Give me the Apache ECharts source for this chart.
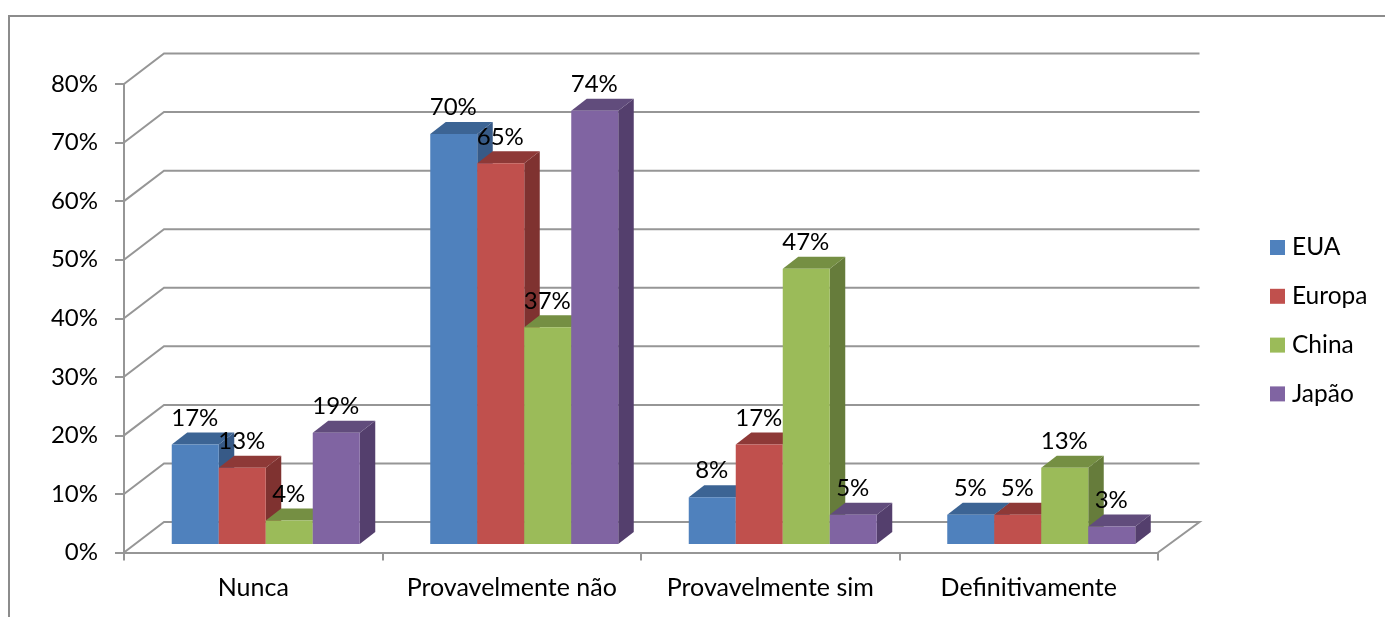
<!DOCTYPE html>
<html>
<head>
<meta charset="utf-8">
<script src="https://cdn.jsdelivr.net/npm/echarts@6/dist/echarts.min.js"></script>
<style>html,body{margin:0;padding:0;background:#fff}#c{width:1385px;height:617px}</style>
</head>
<body>
<div id="c"></div>
<script>
const categories = ['Nunca', 'Provavelmente não', 'Provavelmente sim', 'Definitivamente'];
const seriesNames = ['EUA', 'Europa', 'China', 'Japão'];
const EUA = [17, 70, 8, 5];
const Europa = [13, 65, 17, 5];
const China = [4, 37, 47, 13];
const Japao = [19, 74, 5, 3];
const gridTicks = [0, 10, 20, 30, 40, 50, 60, 70, 80];

const palette = [
  { front: '#4F81BD', top: '#3C6494', side: '#375A87' },
  { front: '#C0504D', top: '#8E3937', side: '#7F3230' },
  { front: '#9BBB59', top: '#758F43', side: '#667C3B' },
  { front: '#8064A2', top: '#614C7C', side: '#543F6D' }
];
const FONT = 'Lato';
const FS_NUM = 24, FS_CAT = 25, FS_LEG = 24.5;
const GRID = '#969696';
const BACK_DX = 40, BACK_DY = -30.5, BACK_EXTRA = 1.5;
const BAR_W = 47, DEPTH_DX = 15.5, DEPTH_DY = -12;
const BAR_SHIFT = 12.5, BAR_LIFT = 8.5;

function barRenderer(si) {
  return function (params, api) {
    const cat = api.value(0), val = api.value(1);
    const base = api.coord([cat, 0]);
    const top = api.coord([cat, val]);
    const x0 = base[0] + BAR_SHIFT + (si - 2) * BAR_W, x1 = x0 + BAR_W;
    const yb = base[1] - BAR_LIFT, yt = top[1] - BAR_LIFT;
    const c = palette[si];
    return {
      type: 'group',
      children: [
        { type: 'polygon', shape: { points: [[x1, yb], [x1 + DEPTH_DX, yb + DEPTH_DY], [x1 + DEPTH_DX, yt + DEPTH_DY], [x1, yt]] }, style: { fill: c.side } },
        { type: 'polygon', shape: { points: [[x0, yt], [x1, yt], [x1 + DEPTH_DX, yt + DEPTH_DY], [x0 + DEPTH_DX, yt + DEPTH_DY]] }, style: { fill: c.top } },
        { type: 'rect', shape: { x: x0, y: yt, width: BAR_W, height: yb - yt }, style: { fill: c.front } },
        { type: 'text', z2: 100, style: { text: val + '%', x: (x0 + x1) / 2 - 0.5, y: yt - 26.5, align: 'center', verticalAlign: 'middle', fill: '#000', font: FS_NUM + 'px ' + FONT } }
      ]
    };
  };
}

function gridRenderer(params, api) {
  const v = api.value(0);
  const cs = params.coordSys;
  const p = api.coord([0, v]);
  const xl = cs.x, xr = cs.x + cs.width, y = p[1];
  const pts = [[xl, y], [xl + BACK_DX, y + BACK_DY], [xr + BACK_DX + BACK_EXTRA, y + BACK_DY]];
  if (v === 0) pts.push([xr, y]);
  return { type: 'polyline', shape: { points: pts }, style: { stroke: GRID, lineWidth: 2, fill: null } };
}

const rows = [EUA, Europa, China, Japao];
const series = [{
  type: 'custom', name: 'grade', z: 1, silent: true, clip: false,
  coordinateSystem: 'cartesian2d',
  renderItem: gridRenderer,
  encode: { y: 0 },
  data: gridTicks.map(v => [v])
}];
rows.forEach((vals, si) => {
  series.push({
    type: 'custom', name: seriesNames[si], z: 3, clip: false,
    coordinateSystem: 'cartesian2d',
    itemStyle: { color: palette[si].front },
    renderItem: barRenderer(si),
    encode: { x: 0, y: 1 },
    data: vals.map((v, i) => [i, v])
  });
});

const chart = echarts.init(document.getElementById('c'), null, { renderer: 'canvas' });
chart.setOption({
  animation: false,
  backgroundColor: '#fff',
  textStyle: { fontFamily: FONT },
  grid: { left: 124, top: 84, width: 1034, height: 468.5, containLabel: false },
  graphic: [{
    type: 'polyline', z: 0, silent: true,
    shape: { points: [[9, 617], [9, 16], [1385, 16]] },
    style: { stroke: '#8C8C8C', lineWidth: 2, fill: null }
  }],
  legend: {
    data: seriesNames.map(n => ({ name: n, icon: 'rect' })),
    orient: 'vertical', left: 1270, top: 235,
    itemWidth: 15, itemHeight: 15, itemGap: 23.8,
    padding: 0,
    selectedMode: false,
    textStyle: { fontFamily: FONT, fontSize: FS_LEG, color: '#000', padding: [0, 0, 0, 2] }
  },
  xAxis: {
    type: 'category', data: categories,
    axisLine: { show: true, lineStyle: { color: GRID, width: 2 } },
    axisTick: { show: true, length: 8, lineStyle: { color: GRID, width: 2 } },
    axisLabel: { margin: 23, fontFamily: FONT, fontSize: FS_CAT, color: '#000', interval: 0 },
    splitLine: { show: false }
  },
  yAxis: {
    type: 'value', min: 0, max: 80, interval: 10,
    axisLine: { show: true, lineStyle: { color: GRID, width: 2 } },
    axisTick: { show: true, length: 9, lineStyle: { color: GRID, width: 2 } },
    axisLabel: { margin: 26, fontFamily: FONT, fontSize: FS_NUM, color: '#000', formatter: '{value}%', padding: [4, 0, 0, 0] },
    splitLine: { show: false }
  },
  series
});
</script>
</body>
</html>
